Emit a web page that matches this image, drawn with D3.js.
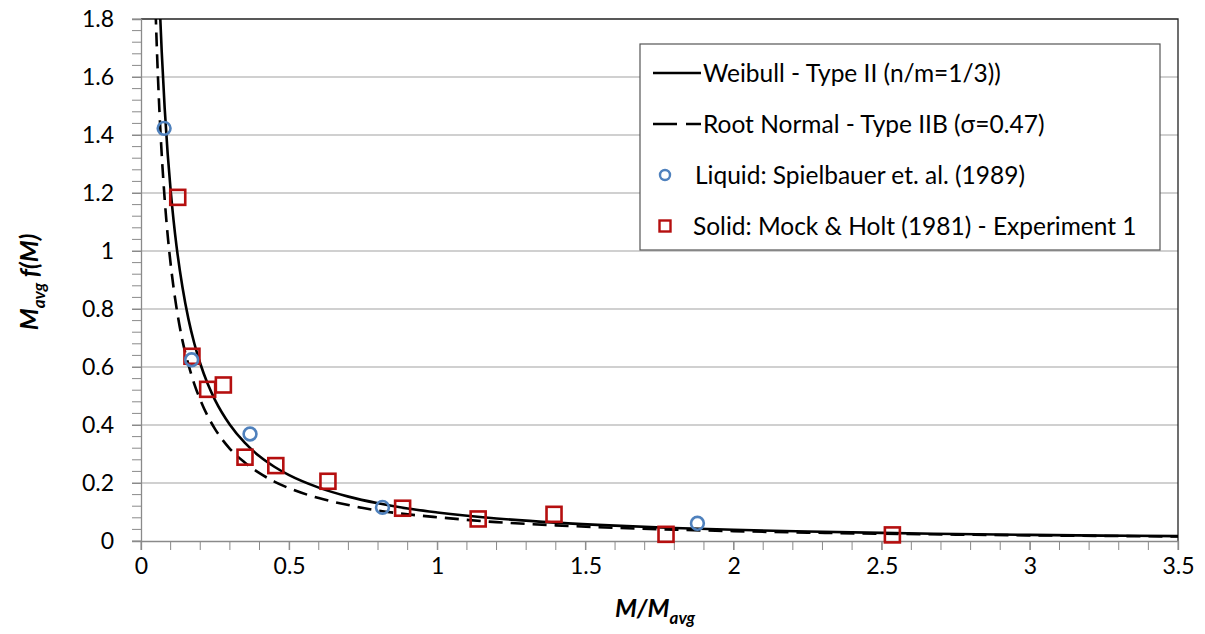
<!DOCTYPE html>
<html>
<head>
<meta charset="utf-8">
<script src="https://cdn.jsdelivr.net/npm/d3@7"></script>
<style>
  html, body { margin: 0; padding: 0; background: #fff; }
  svg { display: block; }
  text { font-family: Lato, "Open Sans", sans-serif; fill: #000; }
</style>
</head>
<body>
<svg id="chart" width="1205" height="634"></svg>
<script>
// ---------------- data ----------------
const xTicks = [0, 0.5, 1, 1.5, 2, 2.5, 3, 3.5];
const yTicks = [0, 0.2, 0.4, 0.6, 0.8, 1, 1.2, 1.4, 1.6, 1.8];

// Weibull - Type II (n/m = 1/3), read/
const weibullX = [0.055, 0.06, 0.065, 0.07, 0.08, 0.09, 0.1, 0.11, 0.12, 0.14, 0.16, 0.18, 0.2, 0.225, 0.25, 0.3, 0.35, 0.4, 0.45, 0.5, 0.6, 0.7, 0.8, 0.9, 1.0, 1.2, 1.4, 1.6, 1.8, 2.0, 2.25, 2.5, 2.75, 3.0, 3.25, 3.5];
const weibullY = [2.099, 1.940, 1.804, 1.686, 1.491, 1.336, 1.210, 1.105, 1.016, 0.875, 0.766, 0.681, 0.612, 0.542, 0.486, 0.401, 0.339, 0.292, 0.256, 0.227, 0.184, 0.153, 0.130, 0.112, 0.0985, 0.0778, 0.0634, 0.0529, 0.0449, 0.0387, 0.0326, 0.0279, 0.0242, 0.0212, 0.0187, 0.0167];

// Root Normal - Type IIB (sigma = 0.47), read/
const rootNormalX = [0.045, 0.05, 0.055, 0.06, 0.07, 0.08, 0.09, 0.1, 0.11, 0.12, 0.14, 0.16, 0.18, 0.2, 0.225, 0.25, 0.3, 0.35, 0.4, 0.45, 0.5, 0.6, 0.7, 0.8, 0.9, 1.0, 1.2, 1.4, 1.6, 1.8, 2.0, 2.25, 2.5, 2.75, 3.0, 3.25, 3.5];
const rootNormalY = [1.982, 1.805, 1.658, 1.533, 1.332, 1.178, 1.055, 0.956, 0.873, 0.803, 0.691, 0.609, 0.541, 0.487, 0.431, 0.386, 0.318, 0.271, 0.234, 0.205, 0.182, 0.148, 0.124, 0.105, 0.092, 0.082, 0.065, 0.054, 0.0455, 0.039, 0.034, 0.029, 0.025, 0.022, 0.0195, 0.0174, 0.0157];

// Liquid: Spielbauer et. al. (1989)
const liquidX = [0.078, 0.171, 0.368, 0.815, 1.878];
const liquidY = [1.423, 0.625, 0.369, 0.116, 0.061];

// Solid: Mock & Holt (1981) - Experiment 1
const solidX = [0.124, 0.172, 0.225, 0.278, 0.351, 0.455, 0.631, 0.883, 1.138, 1.394, 1.772, 2.536];
const solidY = [1.185, 0.637, 0.523, 0.538, 0.289, 0.260, 0.206, 0.113, 0.076, 0.092, 0.023, 0.021];

const legendLabels = [
  "Weibull - Type II (n/m=1/3))",
  "Root Normal - Type IIB (\u03c3=0.47)",
  "Liquid: Spielbauer et. al. (1989)",
  "Solid: Mock & Holt (1981) - Experiment 1"
];

// ---------------- layout ----------------
const svg = d3.select("#chart");
const plot = { left: 141, right: 1178, top: 19, bottom: 541 };

const x = d3.scaleLinear().domain([0, 3.5]).range([plot.left, plot.right]);
const y = d3.scaleLinear().domain([0, 1.8]).range([plot.bottom, plot.top]);

const blue = "#4f81bd";
const red = "#b50f0f";
const gridColor = "#c0c0c0";
const axisColor = "#8a8a8a";

// gridlines
svg.append("g").selectAll("line").data(yTicks.filter(d => d > 0 && d < 1.8)).join("line")
  .attr("x1", plot.left).attr("x2", plot.right)
  .attr("y1", d => y(d)).attr("y2", d => y(d))
  .attr("stroke", gridColor).attr("stroke-width", 1.5);

// plot border (top and right)
svg.append("path")
  .attr("d", `M${plot.left},${plot.top}H${plot.right}V${plot.bottom}`)
  .attr("fill", "none").attr("stroke", "#222").attr("stroke-width", 1.3);

// y axis minor ticks (every 0.04)
const yMinor = d3.range(0, 46).map(i => +(i * 0.04).toFixed(2));
svg.append("g").selectAll("line").data(yMinor).join("line")
  .attr("x1", plot.left - 9).attr("x2", plot.left)
  .attr("y1", d => y(d)).attr("y2", d => y(d))
  .attr("stroke", axisColor).attr("stroke-width", 1);

// x axis minor ticks (every 0.1)
const xMinor = d3.range(0, 36).map(i => +(i * 0.1).toFixed(1));
svg.append("g").selectAll("line").data(xMinor).join("line")
  .attr("x1", d => x(d)).attr("x2", d => x(d))
  .attr("y1", plot.bottom).attr("y2", plot.bottom + 9)
  .attr("stroke", axisColor).attr("stroke-width", 1);

// axes via d3
const fmt = d => String(+d.toFixed(1));
const yAxis = svg.append("g").attr("transform", `translate(${plot.left},0)`)
  .call(d3.axisLeft(y).tickValues(yTicks).tickFormat(fmt).tickSize(9).tickPadding(18));
const xAxis = svg.append("g").attr("transform", `translate(0,${plot.bottom})`)
  .call(d3.axisBottom(x).tickValues(xTicks).tickFormat(fmt).tickSize(9).tickPadding(8));
[yAxis, xAxis].forEach(a => {
  a.select(".domain").attr("stroke", axisColor).attr("stroke-width", 1.3);
  a.selectAll(".tick line").attr("stroke", axisColor);
  a.selectAll(".tick text").style("font-family", "Lato, sans-serif").style("font-size", "23px").attr("fill", "#000");
});

// clip
svg.append("clipPath").attr("id", "clip").append("rect")
  .attr("x", plot.left).attr("y", plot.top)
  .attr("width", plot.right - plot.left).attr("height", plot.bottom - plot.top);

const line = d3.line().x(d => x(d[0])).y(d => y(d[1])).curve(d3.curveMonotoneX);
const gCurves = svg.append("g").attr("clip-path", "url(#clip)");

gCurves.append("path")
  .attr("d", line(rootNormalX.map((v, i) => [v, rootNormalY[i]])))
  .attr("fill", "none").attr("stroke", "#000").attr("stroke-width", 2.6)
  .attr("stroke-dasharray", "14,8");

gCurves.append("path")
  .attr("d", line(weibullX.map((v, i) => [v, weibullY[i]])))
  .attr("fill", "none").attr("stroke", "#000").attr("stroke-width", 2.6);

// markers
svg.append("g").selectAll("rect").data(solidX.map((v, i) => [v, solidY[i]])).join("rect")
  .attr("x", d => x(d[0]) - 7.5).attr("y", d => y(d[1]) - 7.5)
  .attr("width", 15).attr("height", 15)
  .attr("fill", "none").attr("stroke", red).attr("stroke-width", 2.6);

svg.append("g").selectAll("circle").data(liquidX.map((v, i) => [v, liquidY[i]])).join("circle")
  .attr("cx", d => x(d[0])).attr("cy", d => y(d[1])).attr("r", 6.4)
  .attr("fill", "none").attr("stroke", blue).attr("stroke-width", 2.6);

// legend
const lg = svg.append("g");
lg.append("rect").attr("x", 640).attr("y", 44).attr("width", 520).attr("height", 206)
  .attr("fill", "#fff").attr("stroke", "#555").attr("stroke-width", 1.2);
const rowsY = [73, 124, 175, 226];
lg.append("line").attr("x1", 653).attr("x2", 701).attr("y1", rowsY[0]).attr("y2", rowsY[0])
  .attr("stroke", "#000").attr("stroke-width", 2.6);
lg.append("line").attr("x1", 653).attr("x2", 701).attr("y1", rowsY[1]).attr("y2", rowsY[1])
  .attr("stroke", "#000").attr("stroke-width", 2.6).attr("stroke-dasharray", "24,9,15,100");
lg.append("circle").attr("cx", 665).attr("cy", rowsY[2]).attr("r", 5)
  .attr("fill", "none").attr("stroke", blue).attr("stroke-width", 2.4);
lg.append("rect").attr("x", 659.5).attr("y", rowsY[3] - 5.5).attr("width", 11).attr("height", 11)
  .attr("fill", "none").attr("stroke", red).attr("stroke-width", 2.4);
const textX = [703, 703, 695, 693];
lg.selectAll("text.leg").data(legendLabels).join("text").attr("class", "leg")
  .attr("x", (d, i) => textX[i]).attr("y", (d, i) => rowsY[i])
  .attr("dy", "0.35em").style("font-size", "24.5px").text(d => d);

// axis titles
const xt = svg.append("text").attr("x", 655).attr("y", 617).attr("text-anchor", "middle")
  .style("font-size", "25px").style("font-weight", "bold").style("font-style", "italic");
xt.append("tspan").text("M/M");
xt.append("tspan").attr("dy", 7).style("font-size", "17px").text("avg");

const yt = svg.append("text").attr("transform", "translate(38,282) rotate(-90)")
  .attr("text-anchor", "middle")
  .style("font-size", "25px").style("font-weight", "bold").style("font-style", "italic");
yt.append("tspan").text("M");
yt.append("tspan").attr("dy", 7).style("font-size", "17px").text("avg");
yt.append("tspan").attr("dy", -7).text(" f(M)");
</script>
</body>
</html>
